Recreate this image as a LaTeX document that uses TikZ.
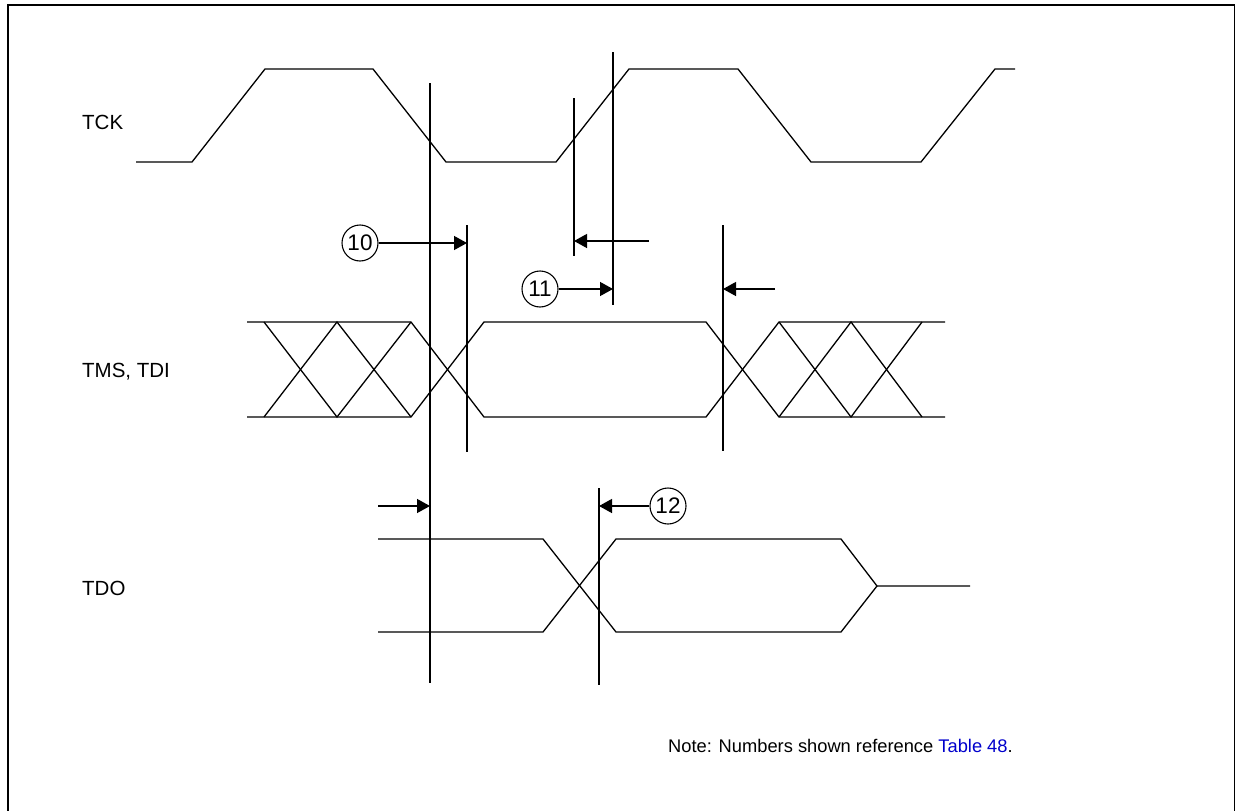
\documentclass[tikz,border=0pt]{standalone}
\usepackage{fontspec}
\setmainfont{Liberation Sans}
\usetikzlibrary{arrows.meta}
\definecolor{linkblue}{RGB}{0,0,204}
\begin{document}
\begin{tikzpicture}[x=1pt,y=-1pt,
  wave/.style={line width=1.3pt, line join=miter},
  marker/.style={line width=1.8pt},
  dimarrow/.style={line width=1.3pt, -{Triangle[length=13pt,width=14pt]}},
  numcirc/.style={circle, draw, line width=1.1pt, minimum size=36pt, inner sep=0pt, font=\fontsize{22.5}{24}\selectfont},
  siglabel/.style={anchor=base west, inner sep=0pt, font=\fontsize{20.5}{24}\selectfont},
]
\useasboundingbox (0,0) rectangle (1235,811);
\draw[line width=2pt] (8,811) -- (8,5) -- (1235,5) -- (1235,811);

% signal labels
\node[siglabel] (tck) at (82,129) {TCK};
\node[siglabel] (tms) at (82,377) {TMS, TDI};
\node[siglabel] (tdo) at (82,595) {TDO};

% TCK
\draw[wave] (136,162) -- (192,162) -- (265,69) -- (373,69) -- (446,162) -- (556,162) -- (629,69) -- (738,69) -- (811,162) -- (921,162) -- (995,69) -- (1015,69);

% TMS, TDI
\draw[wave] (247,322) -- (411,322) -- (484,417) -- (706,417) -- (779,322) -- (945,322);
\draw[wave] (247,417) -- (411,417) -- (484,322) -- (706,322) -- (779,417) -- (945,417);
\draw[wave] (264,417) -- (337,322) -- (411,417);
\draw[wave] (264,322) -- (337,417) -- (411,322);
\draw[wave] (779,322) -- (851,417) -- (922,322);
\draw[wave] (779,417) -- (851,322) -- (922,417);

% TDO
\draw[wave] (378,539) -- (543,539) -- (616,632) -- (841,632) -- (877,586) -- (970,586);
\draw[wave] (378,632) -- (543,632) -- (616,539) -- (841,539) -- (877,586);

% marker lines
\coordinate (v1t) at (430,83);  \coordinate (v1b) at (430,683);
\coordinate (v2t) at (467,225); \coordinate (v2b) at (467,452);
\coordinate (v3t) at (574,98);  \coordinate (v3b) at (574,256);
\coordinate (v4t) at (613,52);  \coordinate (v4b) at (613,305);
\coordinate (v5t) at (723,225); \coordinate (v5b) at (723,451);
\coordinate (v6t) at (599,488); \coordinate (v6b) at (599,685);
\draw[marker] (v1t) -- (v1b);
\draw[marker] (v2t) -- (v2b);
\draw[marker] (v3t) -- (v3b);
\draw[marker] (v4t) -- (v4b);
\draw[marker] (v5t) -- (v5b);
\draw[marker] (v6t) -- (v6b);

% timing arrows
\node[numcirc] (n10) at (360,243) {10};
\draw[dimarrow] (n10.east) -- (v2t |- n10);
\node[numcirc] (n11) at (540,289) {11};
\draw[dimarrow] (n11.east) -- (v4t |- n11);
\coordinate (a11s) at (649,241);
\draw[dimarrow] (a11s) -- (v3t |- a11s);
\coordinate (a11r) at (775,289);
\draw[dimarrow] (a11r) -- (v5t |- a11r);
\coordinate (a12l) at (378,506);
\draw[dimarrow] (a12l) -- (v1t |- a12l);
\node[numcirc] (n12) at (668,506) {12};
\draw[dimarrow] (n12.west) -- (v6t |- n12);

% note
\node[anchor=base west, inner sep=0pt, font=\fontsize{18.3}{22}\selectfont] (note) at (668,752) {Note: Numbers shown reference \textcolor{linkblue}{Table 48}.};
\end{tikzpicture}
\end{document}
